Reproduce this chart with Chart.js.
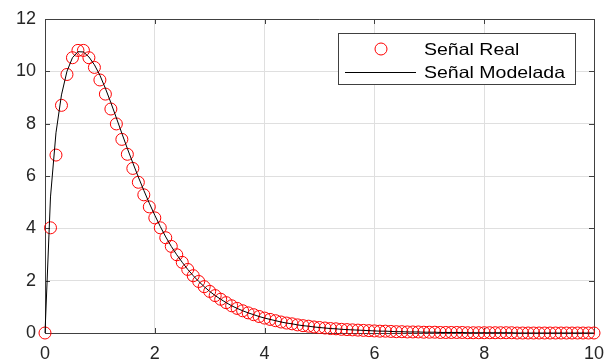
<!DOCTYPE html>
<html>
<head>
<meta charset="utf-8">
<script src="https://cdn.jsdelivr.net/npm/chart.js@4"></script>
<style>
  html, body { margin: 0; padding: 0; background: #fff; overflow: hidden; }
  #wrap { width: 605px; height: 364px; }
</style>
</head>
<body>
<div id="wrap"><canvas id="grafico"></canvas></div>
<script>
// tiempo de muestreo (eje x)
const tiempo = [
  0, 0.1, 0.2, 0.3, 0.4, 0.5, 0.6, 0.7, 0.8, 0.9,
  1, 1.1, 1.2, 1.3, 1.4, 1.5, 1.6, 1.7, 1.8, 1.9,
  2, 2.1, 2.2, 2.3, 2.4, 2.5, 2.6, 2.7, 2.8, 2.9,
  3, 3.1, 3.2, 3.3, 3.4, 3.5, 3.6, 3.7, 3.8, 3.9,
  4, 4.1, 4.2, 4.3, 4.4, 4.5, 4.6, 4.7, 4.8, 4.9,
  5, 5.1, 5.2, 5.3, 5.4, 5.5, 5.6, 5.7, 5.8, 5.9,
  6, 6.1, 6.2, 6.3, 6.4, 6.5, 6.6, 6.7, 6.8, 6.9,
  7, 7.1, 7.2, 7.3, 7.4, 7.5, 7.6, 7.7, 7.8, 7.9,
  8, 8.1, 8.2, 8.3, 8.4, 8.5, 8.6, 8.7, 8.8, 8.9,
  9, 9.1, 9.2, 9.3, 9.4, 9.5, 9.6, 9.7, 9.8, 9.9,
  10
];

// señal medida (circulos rojos)
const senalReal = [
  0, 4.02, 6.80, 8.70, 9.88, 10.52, 10.80, 10.80, 10.52, 10.15,
  9.67, 9.13, 8.56, 7.99, 7.40, 6.83, 6.29, 5.76, 5.28, 4.82,
  4.40, 4.02, 3.64, 3.31, 2.99, 2.70, 2.43, 2.19, 1.97, 1.77,
  1.59, 1.43, 1.29, 1.16, 1.04, 0.94, 0.85, 0.77, 0.70, 0.63,
  0.57, 0.52, 0.47, 0.42, 0.38, 0.35, 0.31, 0.28, 0.26, 0.23,
  0.21, 0.19, 0.17, 0.16, 0.14, 0.13, 0.12, 0.11, 0.10, 0.09,
  0.08, 0.07, 0.07, 0.06, 0.05, 0.05, 0.04, 0.04, 0.04, 0.03,
  0.03, 0.03, 0.02, 0.02, 0.02, 0.02, 0.02, 0.01, 0.01, 0.01,
  0.01, 0.01, 0.01, 0.01, 0.01, 0.01, 0, 0, 0, 0,
  0, 0, 0, 0, 0, 0, 0, 0, 0, 0,
  0
];

// señal del modelo (linea negra)
const senalModelada = [
  0, 5.20, 7.65, 9.10, 10.00, 10.52, 10.75, 10.74, 10.55, 10.25,
  9.85, 9.35, 8.80, 8.22, 7.63, 7.05, 6.50, 5.96, 5.45, 4.96,
  4.50, 4.07, 3.67, 3.31, 2.99, 2.70, 2.43, 2.19, 1.97, 1.77,
  1.59, 1.43, 1.29, 1.16, 1.04, 0.94, 0.85, 0.77, 0.70, 0.63,
  0.57, 0.52, 0.47, 0.42, 0.38, 0.35, 0.31, 0.28, 0.26, 0.23,
  0.21, 0.19, 0.17, 0.16, 0.14, 0.13, 0.12, 0.11, 0.10, 0.09,
  0.08, 0.07, 0.07, 0.06, 0.05, 0.05, 0.04, 0.04, 0.04, 0.03,
  0.03, 0.03, 0.02, 0.02, 0.02, 0.02, 0.02, 0.01, 0.01, 0.01,
  0.01, 0.01, 0.01, 0.01, 0.01, 0.01, 0, 0, 0, 0,
  0, 0, 0, 0, 0, 0, 0, 0, 0, 0,
  0
];

const ticksX = [0, 2, 4, 6, 8, 10];
const ticksY = [0, 2, 4, 6, 8, 10, 12];

const colorEje = '#404040';
const fuente = '"Liberation Sans", Arial, sans-serif';

// caja de ejes (arriba/derecha) y marcas hacia dentro, estilo matlab
const marcoPlugin = {
  id: 'marco',
  beforeDatasetsDraw(chart) {
    const { ctx, chartArea: a, scales } = chart;
    ctx.save();
    ctx.strokeStyle = colorEje;
    ctx.lineWidth = 1;
    ctx.beginPath();
    ctx.moveTo(a.left, a.top + 0.5);
    ctx.lineTo(a.right + 0.5, a.top + 0.5);
    ctx.lineTo(a.right + 0.5, a.bottom);
    ticksX.forEach(v => {
      const x = Math.round(scales.x.getPixelForValue(v)) + 0.5;
      ctx.moveTo(x, a.bottom); ctx.lineTo(x, a.bottom - 5);
      ctx.moveTo(x, a.top); ctx.lineTo(x, a.top + 5);
    });
    ticksY.forEach(v => {
      const y = Math.round(scales.y.getPixelForValue(v)) + 0.5;
      ctx.moveTo(a.left, y); ctx.lineTo(a.left + 5, y);
      ctx.moveTo(a.right, y); ctx.lineTo(a.right - 5, y);
    });
    ctx.stroke();
    ctx.restore();
  }
};

// leyenda dentro del area del grafico
const leyendaPlugin = {
  id: 'leyenda',
  afterDraw(chart) {
    const { ctx, chartArea: a } = chart;
    const x0 = a.right - 256, y0 = a.top + 14, w = 237, h = 51;
    ctx.save();
    ctx.fillStyle = '#fff';
    ctx.fillRect(x0, y0, w, h);
    ctx.strokeStyle = colorEje;
    ctx.lineWidth = 1;
    ctx.strokeRect(x0 + 0.5, y0 + 0.5, w, h);

    const dsReal = chart.data.datasets[0];
    const dsMod = chart.data.datasets[1];

    // marcador circulo
    ctx.strokeStyle = dsReal.borderColor;
    ctx.beginPath();
    ctx.arc(x0 + 43, y0 + 16, 6, 0, Math.PI * 2);
    ctx.stroke();
    // muestra de linea
    ctx.strokeStyle = dsMod.borderColor;
    ctx.beginPath();
    ctx.moveTo(x0 + 7, y0 + 39.5);
    ctx.lineTo(x0 + 78, y0 + 39.5);
    ctx.stroke();

    ctx.fillStyle = '#000';
    ctx.font = '16.5px ' + fuente;
    ctx.textBaseline = 'alphabetic';
    const escala = 141 / ctx.measureText(dsMod.label).width;
    [[dsReal.label, y0 + 22], [dsMod.label, y0 + 45]].forEach(([t, y]) => {
      ctx.save();
      ctx.translate(x0 + 86, y);
      ctx.scale(escala, 1);
      ctx.fillText(t, 0, 0);
      ctx.restore();
    });
    ctx.restore();
  }
};

const ctx = document.getElementById('grafico');

new Chart(ctx, {
  type: 'scatter',
  data: {
    datasets: [{
      label: 'Señal Real',
      data: tiempo.map((t, i) => ({ x: t, y: senalReal[i] })),
      showLine: false,
      pointStyle: 'circle',
      pointRadius: 6,
      pointBorderWidth: 1,
      borderColor: '#ff0000',
      backgroundColor: 'rgba(0,0,0,0)',
      pointBackgroundColor: 'rgba(0,0,0,0)',
      pointBorderColor: '#ff0000',
      clip: false,
      order: 2
    }, {
      label: 'Señal Modelada',
      data: tiempo.map((t, i) => ({ x: t, y: senalModelada[i] })),
      showLine: true,
      pointRadius: 0,
      borderColor: '#000000',
      borderWidth: 1,
      tension: 0,
      clip: false,
      order: 1
    }]
  },
  options: {
    responsive: true,
    maintainAspectRatio: false,
    animation: false,
    events: [],
    layout: { autoPadding: false, padding: { left: 0, top: 19, right: 11, bottom: 0 } },
    scales: {
      x: {
        type: 'linear',
        min: 0,
        max: 10,
        afterFit: s => { s.height = 31; s.paddingLeft = 0; s.paddingRight = 0; },
        afterBuildTicks: s => { s.ticks = ticksX.map(v => ({ value: v })); },
        grid: { color: '#dfdfdf', drawTicks: false, lineWidth: 1 },
        border: { color: colorEje, width: 1 },
        ticks: {
          padding: 10,
          color: '#262626',
          font: { family: fuente, size: 18 }
        }
      },
      y: {
        type: 'linear',
        min: 0,
        max: 12,
        afterFit: s => { s.width = 45; s.paddingTop = 0; s.paddingBottom = 0; },
        afterBuildTicks: s => { s.ticks = ticksY.map(v => ({ value: v })); },
        grid: { color: '#dfdfdf', drawTicks: false, lineWidth: 1 },
        border: { color: colorEje, width: 1 },
        ticks: {
          padding: 9,
          color: '#262626',
          font: { family: fuente, size: 18 }
        }
      }
    },
    plugins: {
      legend: { display: false },
      tooltip: { enabled: false }
    }
  },
  plugins: [marcoPlugin, leyendaPlugin]
});
</script>
</body>
</html>
